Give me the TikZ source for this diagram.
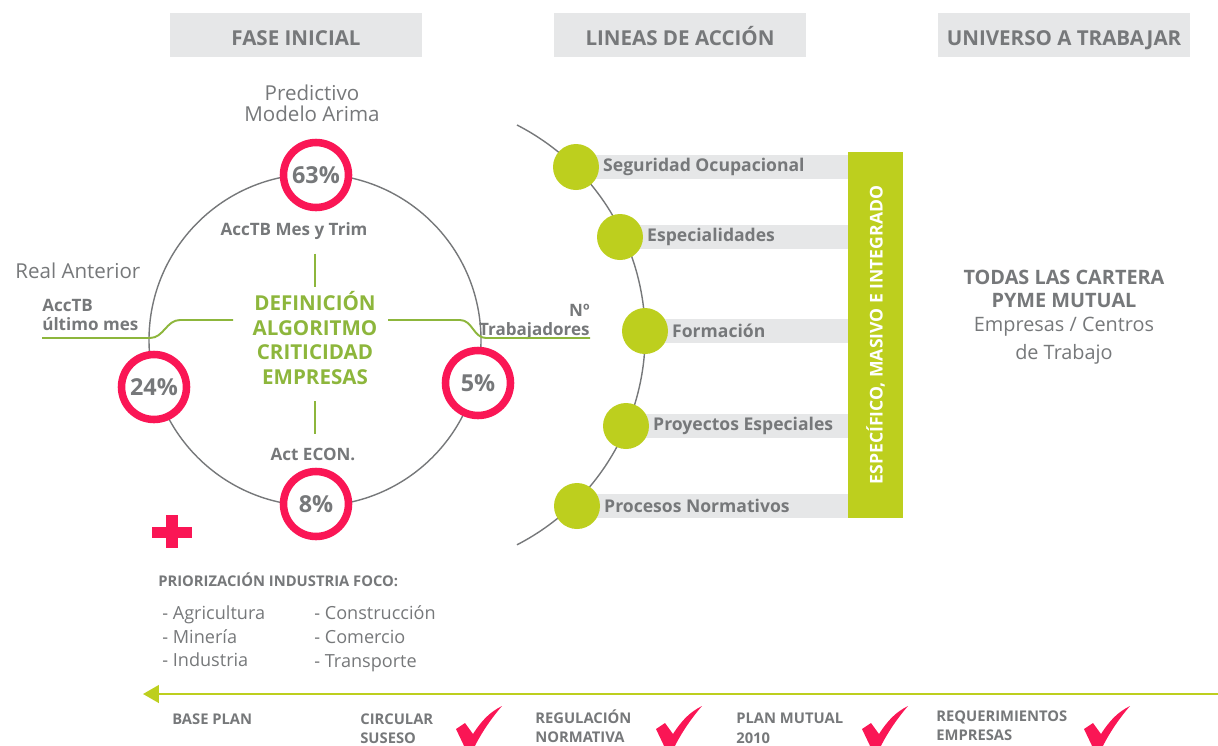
\documentclass[tikz,border=0pt]{standalone}
\usepackage{fontspec}
\setmainfont{Open Sans}
\usetikzlibrary{arrows.meta,positioning}

\definecolor{txtgray}{HTML}{76787A}
\definecolor{boxgray}{HTML}{E6E7E8}
\definecolor{ringred}{HTML}{FA1655}
\definecolor{lime}{HTML}{BDCF1E}
\definecolor{leaf}{HTML}{8DB63C}

\tikzset{
  header/.style={rectangle, fill=boxgray, minimum width=5.06cm, minimum height=0.88cm, text height=11.4pt, text depth=0pt, text=txtgray, font=\bfseries\fontsize{11.7}{13}\selectfont},
  ring/.style={circle, draw=ringred, line width=4.3pt, fill=white, minimum size=1.3cm, inner sep=0pt, text=txtgray, font=\bfseries\fontsize{13.3}{15}\selectfont},
  dot/.style={circle, fill=lime, minimum size=0.92cm, inner sep=0pt},
  action/.style={anchor=west, inner sep=2pt, text=txtgray, font=\bfseries\fontsize{10}{12}\selectfont},
  light/.style={text=txtgray, font=\fontsize{11.7}{12}\selectfont},
  small/.style={text=txtgray, font=\bfseries\fontsize{9.7}{11}\selectfont},
  gline/.style={draw=leaf, line width=1.1pt},
  milestone/.style={anchor=north west, align=left, text=txtgray, inner sep=0pt, font=\bfseries\fontsize{8.4}{10.9}\selectfont},
}

\begin{document}
\begin{tikzpicture}[x=0.02cm, y=-0.02cm]
  \useasboundingbox (0,0) rectangle (1218,745);

  % column headers
  \node[header] (fase)     at (296,35)  {FASE INICIAL};
  \node[header] (lineas)   at (680,35)  {LINEAS DE ACCIÓN};
  \node[header] (universo) at (1064,35) {UNIVERSO A TRABAJAR};

  % criteria circle
  \draw[txtgray, line width=0.8pt] (315,340) circle (166);
  \node[ring] (pred) at (316,175) {63\%};
  \node[ring] (real) at (154,387) {24\%};
  \node[ring] (trab) at (478,383) {5\%};
  \node[ring] (econ) at (316,504) {8\%};

  \node[light, align=center] (predtxt) at (312,103) {Predictivo\\Modelo Arima};
  \node[light, anchor=west, inner sep=0pt] (realtxt) at (15,271) {Real Anterior};
  \node[small, anchor=west, align=left, inner sep=0pt] (ultimo) at (42,315) {AccTB\\último mes};
  \node[small, anchor=east, align=right, inner sep=0pt] (ntrab) at (590,322) {Nº\\Trabajadores};
  \node[small] (trim) at (294,231) {AccTB Mes y Trim};
  \node[small] (act)  at (313,454) {Act ECON.};
  \node[align=center, text=leaf, font=\bfseries\fontsize{11.7}{14}\selectfont] (defn) at (315,338)
    {DEFINICIÓN\\ALGORITMO\\CRITICIDAD\\EMPRESAS};

  \coordinate (lftend) at (42,338);
  \coordinate (lftin)  at (233,320);
  \coordinate (rgtin)  at (388,320);
  \coordinate (rgtend) at (590,338);
  \draw[gline] (lftend) -- ++(108,0) to[out=0, in=180] ++(30,-18) -- (lftin);
  \draw[gline] (rgtin) -- ++(72,0) to[out=0, in=180] ++(26,18) -- (rgtend);
  \draw[gline] (trim.south) ++(21,8) -- ++(0,33);
  \draw[gline] (act.north) ++(2,-8) -- ++(0,-33);

  % plus sign
  \fill[ringred] (152,527) rectangle (192,538);
  \fill[ringred] (166,515) rectangle (178,548);

  \node[anchor=west, inner sep=0pt, text=txtgray, font=\bfseries\fontsize{8.4}{10}\selectfont] (prior) at (158,580)
    {PRIORIZACIÓN INDUSTRIA FOCO:};
  \node[anchor=north west, align=left, inner sep=0pt, text=txtgray, font=\fontsize{10.3}{13.6}\selectfont] (col1) at (162,605)
    {- Agricultura\\- Minería\\- Industria};
  \node[anchor=north west, align=left, inner sep=0pt, text=txtgray, font=\fontsize{10.3}{13.6}\selectfont] (col2) at (314,605)
    {- Construcción\\- Comercio\\- Transporte};

  % lines of action
  \draw[txtgray, line width=0.8pt] (517,125) arc[start angle=-62.8, end angle=62.8, radius=236];
  \foreach \x/\y/\txt/\nm in {576/167/Seguridad Ocupacional/seg, 620/237/Especialidades/esp,
                             645/331/Formación/form, 626/426/Proyectos Especiales/proy, 577/506/Procesos Normativos/proc} {
    \fill[boxgray] (\x,\y-12) rectangle (848,\y+12);
    \node[dot] (\nm) at (\x,\y) {};
    \node[action] (\nm txt) at (\nm.east) {\txt};
  }
  \node[rectangle, fill=lime, minimum width=1.1cm, minimum height=7.32cm, inner sep=0pt] (scope) at (875.5,335)
    {\rotatebox{90}{\color{white}\bfseries\fontsize{10}{12}\selectfont ESPECÍFICO, MASIVO E INTEGRADO}};

  % universe
  \node[align=center, text=txtgray, font=\bfseries\fontsize{11.3}{13}\selectfont] (cartera) at (1064,289)
    {TODAS LAS CARTERA\\PYME MUTUAL};
  \node[align=center, light, font=\fontsize{11.3}{16}\selectfont, below=-2pt of cartera] (centros)
    {Empresas / Centros\\de Trabajo};

  % timeline
  \coordinate (tlstart) at (1218,694);
  \coordinate (tlend)   at (143,694);
  \draw[lime, line width=1.2pt, -{Triangle[length=9pt, width=10pt]}] (tlstart) -- (tlend);
  \node[milestone] (base) at (172,713) {BASE PLAN};
  \node[milestone] (circ) at (360,713) {CIRCULAR\\SUSESO};
  \node[milestone] (regu) at (535,709) {REGULACIÓN\\NORMATIVA};
  \node[milestone] (plan) at (736,713) {PLAN MUTUAL\\2010};
  \node[milestone] (requ) at (936,710) {REQUERIMIENTOS\\EMPRESAS};
  \foreach \cx in {478, 678, 884, 1106} {
    \fill[ringred] (\cx-22,729) -- (\cx-13,723) -- (\cx-5,734) .. controls (\cx+4,720) and (\cx+12,712) .. (\cx+24,706)
      .. controls (\cx+11,721) and (\cx+1,737) .. (\cx-5,750) -- (\cx-12,750) -- cycle;
  }
\end{tikzpicture}
\end{document}
